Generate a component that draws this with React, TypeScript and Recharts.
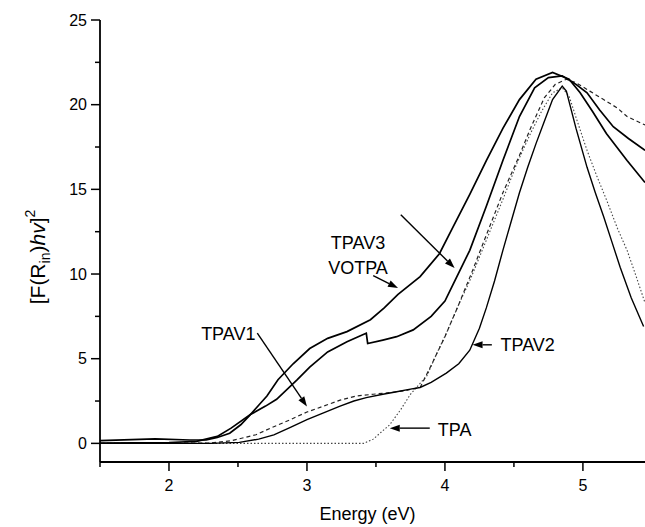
import React from 'react';
import { LineChart, Line, XAxis, YAxis, ReferenceLine, ReferenceDot } from 'recharts';

// ---- data (energy in eV, value [F(R)hv]^2) ----
const VOTPA_E = [1.5, 1.9, 2.15, 2.27, 2.35, 2.44, 2.52, 2.59, 2.65, 2.71, 2.79, 2.9, 3.02, 3.15, 3.29, 3.46, 3.56, 3.66, 3.82, 3.96, 4.06, 4.18, 4.3, 4.42, 4.54, 4.66, 4.78, 4.9, 4.98, 5.07, 5.17, 5.32, 5.45];
const VOTPA_V = [0.16, 0.26, 0.2, 0.2, 0.35, 0.6, 1.1, 1.7, 2.25, 2.8, 3.76, 4.7, 5.6, 6.2, 6.6, 7.3, 8.0, 8.8, 9.85, 11.2, 12.8, 14.7, 16.7, 18.6, 20.3, 21.5, 21.9, 21.5, 20.7, 19.6, 18.3, 16.7, 15.4];

const TPAV3_E = [1.5, 2.0, 2.2, 2.35, 2.45, 2.59, 2.7, 2.78, 2.93, 3.02, 3.15, 3.29, 3.4, 3.43, 3.44, 3.55, 3.65, 3.77, 3.9, 4.0, 4.06, 4.18, 4.3, 4.42, 4.54, 4.65, 4.75, 4.85, 4.95, 5.03, 5.12, 5.22, 5.33, 5.45];
const TPAV3_V = [0.02, 0.05, 0.12, 0.41, 0.9, 1.7, 2.2, 2.6, 3.76, 4.5, 5.4, 6.0, 6.4, 6.5, 5.9, 6.1, 6.3, 6.7, 7.5, 8.4, 9.4, 11.4, 14.0, 16.7, 19.3, 21.0, 21.6, 21.7, 21.2, 20.7, 19.7, 18.7, 18.0, 17.3];

const TPAV1_E = [1.5, 2.3, 2.45, 2.63, 2.75, 2.88, 3.0, 3.12, 3.24, 3.36, 3.48, 3.6, 3.7, 3.82, 3.9, 4.0, 4.1, 4.2, 4.3, 4.42, 4.54, 4.62, 4.72, 4.8, 4.88, 4.95, 5.05, 5.15, 5.25, 5.32, 5.45];
const TPAV1_V = [0.0, 0.02, 0.15, 0.51, 0.95, 1.4, 1.85, 2.2, 2.55, 2.8, 2.9, 3.0, 3.1, 3.3, 4.6, 6.3, 8.2, 10.2, 12.3, 14.8, 17.0, 18.6, 20.4, 21.2, 21.5, 21.3, 20.8, 20.3, 19.8, 19.3, 18.8];

const TPAV2_E = [1.5, 2.3, 2.51, 2.65, 2.76, 2.88, 3.0, 3.12, 3.24, 3.34, 3.43, 3.55, 3.65, 3.75, 3.82, 3.9, 4.01, 4.1, 4.18, 4.25, 4.3, 4.36, 4.42, 4.48, 4.54, 4.6, 4.66, 4.72, 4.78, 4.85, 4.88, 4.95, 5.03, 5.09, 5.15, 5.21, 5.27, 5.35, 5.44];
const TPAV2_V = [0.0, 0.0, 0.06, 0.25, 0.5, 0.95, 1.4, 1.8, 2.2, 2.5, 2.7, 2.9, 3.05, 3.2, 3.3, 3.6, 4.15, 4.7, 5.5, 6.8, 8.0, 9.6, 11.4, 13.1, 14.8, 16.3, 17.7, 19.0, 20.3, 21.1, 20.8, 18.6, 16.3, 14.8, 13.4, 11.9, 10.4, 8.6, 6.9];

const TPA_E = [1.5, 3.41, 3.48, 3.6, 3.68, 3.75, 3.87, 3.94, 4.01, 4.1, 4.18, 4.3, 4.42, 4.52, 4.62, 4.7, 4.78, 4.85, 4.9, 4.96, 5.03, 5.1, 5.17, 5.25, 5.32, 5.38, 5.45];
const TPA_V = [0.0, 0.0, 0.25, 1.1, 2.0, 2.9, 4.0, 5.3, 6.5, 8.2, 9.6, 12.0, 14.4, 16.5, 18.3, 19.6, 20.7, 21.0, 20.5, 19.0, 17.3, 15.8, 14.4, 12.7, 11.4, 10.0, 8.3];

const X_TICKS = [1.5, 2, 2.5, 3, 3.5, 4, 4.5, 5];
const Y_TICKS = [0, 2.5, 5, 7.5, 10, 12.5, 15, 17.5, 20, 22.5, 25];

// annotation texts anchored in data coordinates
const LABEL_TEXT = ['VOTPA', 'TPAV3', 'TPAV1', 'TPAV2', 'TPA'];
const LABEL_E = [3.37, 3.37, 2.43, 4.6, 4.07];
const LABEL_V = [10.4, 11.85, 6.47, 5.8, 0.81];
// arrows: tail -> head
const ARROW_E0 = [3.48, 3.68, 2.64, 4.34, 3.89];
const ARROW_V0 = [9.9, 13.5, 6.51, 5.82, 0.9];
const ARROW_E1 = [3.66, 4.07, 3.0, 4.2, 3.6];
const ARROW_V1 = [9.17, 10.35, 2.18, 5.82, 0.9];

const zip = (xs: number[], ys: number[]) => xs.map((x, i) => ({ x, y: ys[i] }));

const FONT = '"Liberation Sans", Arial, sans-serif';

const XTick = (props: any) => {
  const { x, y, payload } = props;
  const v = payload.value;
  const major = Math.abs(v - Math.round(v)) < 1e-6;
  return (
    <g>
      <line x1={x} y1={y} x2={x} y2={y + (major ? 9 : 5)} stroke="#000" strokeWidth={1.5} />
      {major && (
        <text x={x} y={y + 29} textAnchor="middle" fontSize={16} fontFamily={FONT} fill="#000">
          {v}
        </text>
      )}
    </g>
  );
};

const YTick = (props: any) => {
  const { x, y, payload } = props;
  const v = payload.value;
  const major = Math.abs(v / 5 - Math.round(v / 5)) < 1e-6;
  return (
    <g>
      <line x1={x} y1={y} x2={x - (major ? 9 : 5)} y2={y} stroke="#000" strokeWidth={1.5} />
      {major && (
        <text x={x - 13} y={y} dy="0.35em" textAnchor="end" fontSize={16} fontFamily={FONT} fill="#000">
          {v}
        </text>
      )}
    </g>
  );
};

const Arrow = (props: any) => {
  const { x1, y1, x2, y2 } = props;
  if ([x1, y1, x2, y2].some((v) => typeof v !== 'number' || isNaN(v))) return null;
  const ang = Math.atan2(y2 - y1, x2 - x1);
  const L = 10;
  const W = 3.5;
  const bx = x2 - L * Math.cos(ang);
  const by = y2 - L * Math.sin(ang);
  const px = -Math.sin(ang) * W;
  const py = Math.cos(ang) * W;
  return (
    <g>
      <line x1={x1} y1={y1} x2={bx} y2={by} stroke="#000" strokeWidth={1.4} />
      <polygon points={`${x2},${y2} ${bx + px},${by + py} ${bx - px},${by - py}`} fill="#000" />
    </g>
  );
};

const makeLabel = (text: string) => (props: any) => (
  <text x={props.cx} y={props.cy} dy="0.35em" textAnchor="middle" fontSize={18} fontFamily={FONT} fill="#000">
    {text}
  </text>
);

const YTitle = (props: any) => {
  const vb = props.viewBox || { x: 0, y: 20, width: 100, height: 442 };
  const cx = vb.x + 45;
  const cy = vb.y + vb.height / 2 + 16;
  return (
    <text
      x={cx}
      y={cy}
      transform={`rotate(-90 ${cx} ${cy})`}
      textAnchor="middle"
      fontSize={21}
      fontFamily={FONT}
      fill="#000"
    >
      [F(R<tspan fontSize={14} dy={5}>in</tspan>
      <tspan dy={-5}>)</tspan>
      <tspan fontStyle="italic">hv</tspan>]
      <tspan fontSize={14} dy={-10}>2</tspan>
    </text>
  );
};

const XTitle = (props: any) => {
  const vb = props.viewBox || { x: 100, y: 462, width: 545 };
  return (
    <text x={vb.x + vb.width / 2 - 5} y={vb.y + 58} textAnchor="middle" fontSize={18} fontFamily={FONT} fill="#000">
      Energy (eV)
    </text>
  );
};

export default function App() {
  return (
    <div style={{ position: 'absolute', left: 0, top: 0, background: '#fff' }}>
      <LineChart width={645} height={527} margin={{ top: 20, right: 0, bottom: 0, left: 0 }}>
        <XAxis
          type="number"
          dataKey="x"
          domain={[1.5, 5.45]}
          ticks={X_TICKS}
          allowDataOverflow
          height={65}
          tickSize={0}
          tickMargin={0}
          tickLine={false}
          tick={<XTick />}
          axisLine={{ stroke: '#000', strokeWidth: 1.8 }}
          interval={0}
          label={<XTitle />}
        />
        <YAxis
          type="number"
          dataKey="y"
          domain={[-1.1, 25]}
          ticks={Y_TICKS}
          allowDataOverflow
          width={100}
          tickSize={0}
          tickMargin={0}
          tickLine={false}
          tick={<YTick />}
          axisLine={{ stroke: '#000', strokeWidth: 1.8 }}
          interval={0}
          label={<YTitle />}
        />
        <Line data={zip(TPA_E, TPA_V)} dataKey="y" stroke="#444" strokeWidth={1.1} strokeDasharray="1.5 2" dot={false} isAnimationActive={false} />
        <Line data={zip(TPAV1_E, TPAV1_V)} dataKey="y" stroke="#222" strokeWidth={1.2} strokeDasharray="4 3" dot={false} isAnimationActive={false} />
        <Line data={zip(TPAV2_E, TPAV2_V)} dataKey="y" stroke="#000" strokeWidth={1.4} dot={false} isAnimationActive={false} />
        <Line data={zip(TPAV3_E, TPAV3_V)} dataKey="y" stroke="#000" strokeWidth={1.7} dot={false} isAnimationActive={false} />
        <Line data={zip(VOTPA_E, VOTPA_V)} dataKey="y" stroke="#000" strokeWidth={1.7} dot={false} isAnimationActive={false} />
        {LABEL_TEXT.map((t, i) => (
          <ReferenceLine
            key={'a' + t}
            segment={[
              { x: ARROW_E0[i], y: ARROW_V0[i] },
              { x: ARROW_E1[i], y: ARROW_V1[i] },
            ]}
            ifOverflow="visible"
            shape={(p: any) => <Arrow {...p} />}
          />
        ))}
        {LABEL_TEXT.map((t, i) => (
          <ReferenceDot key={'l' + t} x={LABEL_E[i]} y={LABEL_V[i]} r={0} ifOverflow="visible" shape={makeLabel(t)} />
        ))}
      </LineChart>
    </div>
  );
}
